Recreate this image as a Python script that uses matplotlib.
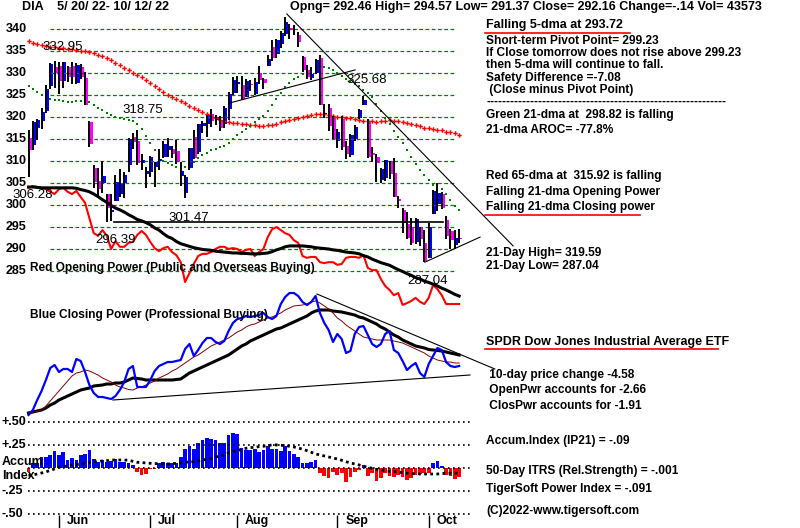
""" DIA daily chart with opening / closing power and accumulation index. """

import matplotlib
matplotlib.use('Agg')
from matplotlib import pyplot as plt
from matplotlib.lines import Line2D
import numpy as np

plt.rcParams['font.family'] = ['Liberation Sans', 'DejaVu Sans']

# Daily bars, 5/20/22 - 10/12/22
opens = [315.2, 313.6, 317.5, 319.0, 321.4, 327.0, 331.4, 331.6, 328.2, 331.3,
         331.6, 327.8, 331.4, 328.8, 318.8, 308.4, 305.5, 304.9, 302.5, 298.3,
         301.0, 302.6, 305.0, 309.0, 315.5, 314.5, 309.6, 307.0, 307.5, 308.6,
         310.0, 311.0, 312.6, 312.8, 312.2, 306.6, 302.8, 308.4, 315.4, 312.0,
         317.9, 318.3, 320.6, 319.4, 319.4, 318.5, 321.8, 325.5, 327.5, 327.3,
         324.6, 327.6, 325.2, 330.0, 328.6, 331.6, 335.8, 334.3, 336.6, 338.8,
         340.3, 339.8, 338.6, 333.7, 330.6, 328.8, 330.1, 333.3, 320.7, 322.0,
         319.8, 314.6, 319.5, 313.5, 311.4, 315.0, 319.8, 322.8, 318.9, 311.9,
         311.0, 305.7, 306.2, 309.9, 307.3, 301.3, 298.8, 295.6, 295.0, 291.7,
         294.9, 291.4, 287.9, 298.0, 300.2, 302.5, 296.5, 294.0, 291.0, 292.46]
highs = [317.0, 319.0, 319.6, 322.1, 327.2, 332.2, 332.8, 332.4, 332.6, 331.5,
         332.6, 332.3, 332.0, 330.2, 319.0, 309.2, 308.3, 310.0, 302.6, 302.6,
         306.9, 308.1, 307.4, 315.2, 316.3, 317.1, 311.6, 308.6, 311.1, 309.7,
         312.7, 314.6, 315.2, 313.5, 314.8, 309.8, 306.8, 313.0, 317.1, 318.4,
         319.0, 320.5, 321.8, 320.5, 320.2, 322.4, 325.6, 329.0, 329.4, 329.3,
         328.7, 328.3, 328.9, 331.6, 328.9, 334.0, 337.4, 337.8, 339.5, 342.8,
         341.2, 341.0, 339.4, 333.9, 331.8, 331.4, 333.1, 334.0, 323.0, 323.0,
         320.2, 317.2, 320.2, 314.6, 316.1, 318.2, 321.8, 324.8, 319.59, 313.2,
         311.5, 308.4, 310.3, 310.0, 310.6, 302.1, 299.4, 298.4, 297.0, 297.0,
         295.0, 294.4, 295.8, 303.4, 305.0, 302.9, 297.5, 294.6, 294.3, 294.57]
lows = [306.3, 312.4, 314.7, 317.3, 320.8, 326.4, 326.6, 325.3, 326.6, 327.9,
        327.6, 327.4, 328.7, 322.7, 313.1, 303.9, 302.1, 302.7, 296.1, 296.4,
        301.0, 301.9, 301.6, 307.6, 312.8, 309.2, 308.0, 303.8, 306.3, 304.2,
        308.0, 310.6, 311.0, 310.6, 309.4, 304.4, 301.6, 308.0, 310.4, 311.7,
        316.4, 315.4, 317.7, 318.1, 316.9, 317.5, 319.4, 325.0, 325.4, 323.9,
        324.5, 325.8, 324.9, 327.5, 326.4, 331.5, 332.7, 333.4, 335.6, 338.5,
        337.8, 338.6, 336.0, 330.3, 328.6, 328.4, 329.7, 322.7, 319.7, 316.8,
        315.0, 313.0, 312.6, 310.5, 311.0, 314.5, 319.6, 322.7, 310.7, 309.8,
        305.3, 305.0, 305.4, 305.9, 301.8, 299.4, 293.6, 292.3, 290.9, 291.1,
        290.6, 287.04, 287.9, 298.0, 298.6, 299.0, 292.3, 290.0, 289.9, 291.37]
closes = [312.6, 318.8, 319.3, 321.2, 326.4, 332.1, 329.9, 328.1, 332.5, 329.0,
          329.2, 331.8, 329.1, 322.7, 313.9, 305.2, 303.6, 306.7, 299.3, 298.9,
          305.3, 304.8, 306.8, 315.0, 314.4, 309.5, 310.3, 307.8, 311.0, 309.7,
          310.4, 313.8, 313.4, 311.7, 309.8, 307.7, 306.3, 312.9, 310.7, 318.3,
          318.7, 320.4, 319.0, 319.9, 317.6, 322.0, 325.3, 328.5, 328.0, 324.0,
          328.1, 327.3, 328.0, 328.3, 327.7, 333.1, 333.4, 337.6, 339.1, 341.5,
          339.8, 340.0, 337.1, 330.6, 329.1, 329.7, 332.9, 322.8, 321.0, 317.9,
          315.1, 316.6, 313.2, 311.5, 315.8, 317.7, 321.5, 323.8, 311.0, 311.3,
          309.6, 308.2, 310.2, 307.1, 301.8, 300.8, 295.9, 292.6, 291.3, 296.8,
          292.2, 287.2, 294.9, 303.2, 302.7, 299.3, 293.0, 292.0, 292.4, 292.16]

# Moving averages (red 65-dma, green 21-dma)
ma65 = [337.2, 336.9, 336.5, 336.3, 336.1, 336.0, 335.8, 335.7, 335.6, 335.5,
        335.4, 335.2, 335.1, 335.0, 334.8, 334.5, 334.2, 333.8, 333.3, 332.9,
        332.3, 331.8, 331.2, 330.6, 330.1, 329.6, 329.1, 328.5, 327.8, 327.1,
        326.3, 325.6, 325.0, 324.6, 324.0, 323.6, 323.1, 322.5, 322.0, 321.6,
        321.2, 320.6, 320.1, 319.7, 319.3, 319.0, 318.8, 318.7, 318.6, 318.4,
        318.3, 318.2, 318.1, 318.0, 318.0, 318.1, 318.2, 318.5, 318.8, 319.1,
        319.3, 319.6, 319.8, 320.0, 320.2, 320.4, 320.6, 320.7, 320.6, 320.4,
        320.2, 320.0, 319.9, 319.8, 319.7, 319.5, 319.3, 319.2, 319.1, 319.0,
        318.9, 319.0, 319.2, 319.3, 319.1, 319.0, 318.9, 318.6, 318.3, 318.2,
        317.9, 317.6, 317.4, 317.2, 317.1, 317.0, 316.7, 316.5, 316.3, 315.92]
ma21 = [327.0, 326.4, 325.7, 325.0, 324.4, 324.0, 323.9, 323.9, 323.7, 323.5,
        323.5, 323.6, 323.7, 323.7, 323.3, 322.8, 322.1, 321.6, 321.0, 320.4,
        320.1, 319.8, 319.6, 319.4, 319.0, 318.5, 317.3, 315.6, 314.0, 312.6,
        311.3, 310.1, 309.5, 309.0, 308.7, 308.5, 308.6, 309.0, 309.8, 310.6,
        311.3, 311.9, 312.4, 312.8, 313.1, 313.5, 314.1, 315.0, 315.9, 316.6,
        317.2, 318.0, 318.8, 319.5, 320.2, 321.4, 322.8, 324.0, 325.4, 326.9,
        327.8, 328.6, 329.2, 329.7, 330.2, 331.0, 331.4, 331.5, 331.4, 331.1,
        330.6, 330.1, 329.4, 328.7, 328.1, 327.6, 327.0, 326.2, 325.4, 324.5,
        323.0, 321.4, 319.8, 318.3, 316.9, 315.5, 314.0, 312.5, 310.9, 309.4,
        308.0, 306.9, 305.6, 304.6, 303.9, 303.6, 302.5, 301.1, 299.8, 298.82]

# Opening power (red) and its average (black), drawn on the price scale
open_pwr = [303.9, 304.3, 304.1, 303.9, 303.6, 303.0, 302.5, 303.6, 303.9, 303.0,
            302.5, 303.2, 301.8, 300.5, 297.0, 293.6, 293.0, 294.3, 293.0, 290.0,
            291.8, 290.5, 290.5, 291.4, 291.6, 293.2, 294.1, 293.2, 291.6, 290.2,
            289.5, 290.2, 290.5, 289.3, 288.6, 287.0, 282.5, 284.5, 286.6, 288.4,
            288.9, 288.9, 289.3, 290.0, 290.5, 290.5, 290.0, 290.2, 290.0, 289.3,
            289.8, 290.0, 288.4, 289.3, 290.0, 292.7, 294.5, 295.0, 294.3, 293.6,
            293.2, 292.0, 291.4, 288.4, 288.0, 288.2, 288.2, 287.0, 286.8, 287.0,
            287.0, 286.4, 286.6, 288.0, 288.2, 288.2, 288.0, 288.6, 285.7, 285.2,
            285.2, 283.2, 281.6, 280.7, 279.5, 280.0, 277.3, 277.7, 278.2, 278.9,
            278.0, 277.5, 278.9, 281.8, 280.9, 279.5, 277.5, 277.5, 277.5, 277.5]
open_pwr_ma = [304.1, 304.1, 304.0, 303.9, 303.9, 303.9, 303.9, 303.9, 303.9, 303.9,
               303.9, 303.8, 303.5, 303.3, 303.0, 302.5, 301.9, 301.2, 300.6, 299.9,
               299.3, 298.9, 298.4, 297.8, 297.3, 296.7, 296.4, 296.0, 295.5, 294.8,
               294.3, 293.5, 292.8, 292.4, 291.7, 291.2, 290.9, 290.6, 290.3, 290.1,
               289.9, 289.8, 289.7, 289.5, 289.4, 289.3, 289.2, 289.1, 289.1, 289.0,
               289.0, 288.9, 288.9, 288.9, 289.0, 289.1, 289.4, 289.8, 290.1, 290.5,
               290.7, 290.7, 290.7, 290.7, 290.6, 290.5, 290.3, 290.2, 290.1, 290.0,
               289.8, 289.7, 289.5, 289.3, 289.2, 289.1, 288.9, 288.5, 288.2, 287.7,
               287.3, 286.9, 286.6, 286.3, 285.8, 285.3, 284.9, 284.4, 284.0, 283.5,
               283.2, 282.7, 282.4, 282.0, 281.6, 281.1, 280.7, 280.2, 279.7, 279.3]

# Closing power (blue), short average (dark red), long average (black)
close_pwr = [15, 20, 30, 39, 50, 62, 65, 58, 61, 61,
             58, 71, 69, 58, 45, 37, 33, 33, 32, 31,
             34, 40, 48, 61, 64, 43, 43, 43, 50, 59,
             64, 66, 68, 68, 69, 70, 81, 86, 74, 80,
             87, 92, 92, 88, 86, 89, 99, 107, 111, 112,
             114, 113, 114, 115, 117, 113, 111, 114, 126, 133,
             137, 137, 134, 128, 125, 128, 134, 117, 107, 100,
             88, 96, 91, 77, 79, 96, 103, 104, 95, 86,
             83, 86, 96, 99, 80, 77, 69, 60, 64, 67,
             57, 53, 66, 74, 82, 80, 68, 64, 63, 64]
close_pwr_ma = [17, 18, 18.5, 20, 24, 29, 34, 39, 44, 49,
                54, 57, 58, 60, 59, 57, 55, 52, 50, 48,
                45, 43, 42, 40.5, 40, 42, 43, 45, 47, 49,
                52, 54, 56, 59, 61, 64, 67, 70, 73, 75,
                78, 81, 84, 86, 88, 90, 92, 95, 98, 100,
                103, 105, 106, 108, 110, 112, 113, 115, 117, 120,
                122, 124, 124.5, 125, 126, 128, 129, 127, 124, 121,
                117, 112, 109, 105, 102, 99, 96, 93, 92, 91,
                90, 90, 90, 90, 89, 88, 87, 85, 83, 81,
                79, 77, 74, 72, 70, 69, 68, 68, 67, 67]
close_pwr_long = [17, 18, 19, 20, 22, 25, 27, 30, 32, 34,
                  36, 38, 40, 41, 42, 44, 44.5, 45, 46, 46,
                  47, 47, 48, 50, 52, 51.5, 51, 50, 50, 50,
                  50, 50, 50, 50, 50.5, 51, 54, 57, 59, 61,
                  63, 65, 67, 69, 71, 73, 75, 78, 81, 84,
                  86, 89, 91, 93, 95, 97, 99, 101, 102, 104,
                  106, 108, 110, 112, 114, 117, 119, 120, 120, 120,
                  119, 118.5, 118, 117, 116, 115, 113, 112, 110, 108,
                  106, 103, 101, 98, 95, 93, 90, 88, 86, 84,
                  83, 82, 80.5, 80, 79.5, 79, 78, 77, 76, 75]

# Accumulation index (IP21) and its average
accum = [-0.036, 0.054, 0.054, 0.12, 0.127, 0.145, 0.19, 0.145, 0.18, 0.09,
         0.11, 0.09, 0.145, 0.16, 0.2, 0.1, 0.07, 0.09, 0.07, 0.08,
         0.1, 0.07, 0.07, 0.054, 0.036, -0.036, -0.07, -0.06, -0.01, -0.01,
         0.054, 0.07, 0.054, 0.054, 0.054, 0.127, 0.21, 0.24, 0.21, 0.28,
         0.31, 0.33, 0.32, 0.31, 0.27, 0.27, 0.36, 0.38, 0.37, 0.22,
         0.2, 0.2, 0.21, 0.18, 0.2, 0.24, 0.21, 0.21, 0.19, 0.24,
         0.19, 0.16, 0.127, 0.06, 0.054, 0.07, 0.09, -0.054, -0.083, -0.11,
         -0.036, -0.07, -0.054, -0.145, -0.09, -0.036, -0.018, 0.036, -0.083, -0.054,
         -0.134, -0.11, -0.054, -0.083, -0.09, -0.07, -0.09, -0.127, -0.11, -0.07,
         -0.06, -0.054, -0.054, 0.054, 0.08, 0.025, -0.07, -0.083, -0.12, -0.09]
accum_ma = [-0.08, -0.072, -0.062, -0.051, -0.04, -0.022, -0.007, 0.011, 0.018, 0.025,
            0.033, 0.04, 0.047, 0.054, 0.062, 0.069, 0.072, 0.08, 0.083, 0.09,
            0.09, 0.09, 0.09, 0.087, 0.076, 0.065, 0.062, 0.058, 0.054, 0.051,
            0.051, 0.047, 0.047, 0.051, 0.054, 0.058, 0.065, 0.069, 0.072, 0.08,
            0.09, 0.098, 0.109, 0.123, 0.134, 0.149, 0.167, 0.181, 0.192, 0.207,
            0.217, 0.225, 0.228, 0.236, 0.239, 0.246, 0.254, 0.254, 0.25, 0.246,
            0.239, 0.232, 0.221, 0.207, 0.192, 0.174, 0.156, 0.145, 0.134, 0.123,
            0.112, 0.101, 0.087, 0.072, 0.058, 0.047, 0.036, 0.022, 0.011, 0.0,
            -0.011, -0.018, -0.025, -0.033, -0.036, -0.04, -0.047, -0.054, -0.058, -0.058,
            -0.062, -0.062, -0.062, -0.062, -0.062, -0.058, -0.054, -0.054, -0.054, -0.054]

# Trend lines (day index, value)
tl_price_down = ([59.4, 111.4], [343.4, 290.7])
tl_price_up = ([46.3, 75.1], [323.2, 330.7])
tl_price_sup = ([91.1, 103.8], [287.0, 292.7])
tl_level = ([19.7, 95.3], [296.2, 296.2])
tl_cp_down = ([66.3, 107.2], [136, 61])
tl_cp_sup = ([19.4, 101.5], [30, 55])

months = ['Jun', 'Jul', 'Aug', 'Sep', 'Oct']
month_start = [7, 28, 48, 71, 92]   # first trading day of each month
price_levels = [285, 290, 295, 300, 305, 310, 315, 320, 325, 330, 335, 340]

W, H = 800, 528
BLUE, MAG, RED, GRN, DRED = '#0000ff', '#ff00ff', '#ff0000', '#008000', '#800000'

fig = plt.figure(figsize=(W / 100, H / 100), dpi=100)

def ftext(x, y, s, size=8.2, weight='bold', **kw):
    fig.text(x / W, 1 - y / H, s, ha='left', va='center', fontsize=size,
             fontweight=weight, **kw)

def uline(x0, x1, y):
    fig.add_artist(Line2D([x0 / W, x1 / W], [1 - y / H, 1 - y / H],
                          color=RED, lw=1.2))

ax_p = fig.add_axes([0, 0, 1, 1])
ax_cp = fig.add_axes([0, 0, 1, 1])
ax_ai = fig.add_axes([0, 0, 1, 1])
for ax in (ax_p, ax_cp, ax_ai):
    ax.set_xlim(-6.552, 177.36)
    ax.axis('off')
    ax.patch.set_alpha(0)
ax_p.set_ylim(226.591, 346.591)
ax_cp.set_ylim(-98, 430)
ax_ai.set_ylim(-0.649, 5.090)

idx = np.arange(len(closes))
o, h, l, c = map(np.array, (opens, highs, lows, closes))

# Price panel
ax_p.hlines(price_levels, 5, 98, colors=GRN, linestyles=(0, (3, 2)), lw=0.9)
for lv in price_levels:
    ax_p.text(-5.3, lv, str(lv), ha='left', va='center', fontsize=9,
              fontweight='bold')

ax_p.plot(idx, ma65, ls='none', marker='P', ms=3.2, color=RED, mew=0)
ax_p.plot(idx, ma21, ls='none', marker='s', ms=1.7, color=GRN, mew=0)

ax_p.vlines(idx, l, h, colors='k', lw=1.4)
body = np.where(np.abs(c - o) < 0.3, 0.3 * np.sign(c - o + 1e-9), c - o)
cols = [BLUE if cc >= oo else MAG for oo, cc in zip(o, c)]
ax_p.bar(idx + 0.35, body, bottom=o, width=0.75, color=cols, lw=0)

for xs, ys in (tl_price_down, tl_price_up, tl_price_sup):
    ax_p.plot(xs, ys, color='k', lw=0.8)
ax_p.plot(*tl_level, color='k', lw=1.2)

ax_p.plot(idx, open_pwr, color=RED, lw=1.5)
ax_p.plot(idx, open_pwr_ma, color='k', lw=2.2)

for s, xi, yv in [('332.95', 3.3, 335.9), ('318.75', 21.5, 321.6),
                  ('325.68', 73.2, 328.4), ('306.28', -3.6, 302.3),
                  ('296.39', 15.3, 292.0), ('301.47', 32.1, 297.0),
                  ('287.04', 87.2, 282.7)]:
    ax_p.text(xi, yv, s, ha='left', va='center', fontsize=9.5)

ftext(30, 268, 'Red Opening Power (Public and Overseas Buying)', size=8.6)

# Closing power panel
ax_cp.plot(idx, close_pwr_long, color='k', lw=2.2)
ax_cp.plot(idx, close_pwr_ma, color=DRED, lw=0.7)
ax_cp.plot(idx, close_pwr, color=BLUE, lw=1.6)
for xs, ys in (tl_cp_down, tl_cp_sup):
    ax_cp.plot(xs, ys, color='k', lw=0.8)
ftext(30, 315, 'Blue Closing Power (Professional Buying)', size=8.6)

# Accumulation index panel
ax_ai.hlines([0.5, 0.25, 0, -0.25, -0.5], -0.1, 101.5, colors='k',
             linestyles=(0, (1, 2)), lw=1.2)
acc = np.array(accum)
ax_ai.bar(idx, acc, width=0.85, color=[BLUE if a > 0 else RED for a in acc],
          lw=0)
ax_ai.plot(idx, accum_ma, color='k', ls=(0, (1, 1.2)), lw=2)
ax_ai.vlines(month_start, -0.51, -0.66, colors='k', lw=1)
for m, s in zip(month_start, months):
    ax_ai.text(m + 1.8, -0.575, s, ha='left', va='center', fontsize=9,
               fontweight='bold')
for s, yv in [('+.50', 0.5), ('+.25', 0.25), ('-.25', -0.25), ('-.50', -0.5)]:
    ax_ai.text(-6.1, yv, s, ha='left', va='center', fontsize=9,
               fontweight='bold')
ax_ai.text(-6.1, 0.07, 'Accum', ha='left', va='center', fontsize=9,
           fontweight='bold')
ax_ai.text(-6.1, -0.08, 'Index', ha='left', va='center', fontsize=9,
           fontweight='bold')

# Header
ftext(22, 7, 'DIA    5/ 20/ 22- 10/ 12/ 22', size=9)
ftext(290, 7, 'Opng= 292.46 High= 294.57 Low= 291.37 Close= 292.16 '
      'Change=-.14 Vol= 43573', size=9)

# Right hand notes
notes = [(25, 'Falling 5-dma at 293.72'),
         (41, 'Short-term Pivot Point= 299.23'),
         (53, 'If Close tomorrow does not rise above 299.23'),
         (65, 'then 5-dma will continue to fall.'),
         (78, 'Safety Difference =-7.08'),
         (90, ' (Close minus Pivot Point)'),
         (102, '-' * 60),
         (115, 'Green 21-dma at  298.82 is falling'),
         (130, '21-dma AROC= -77.8%'),
         (176, 'Red 65-dma at  315.92 is falling'),
         (192, 'Falling 21-dma Opening Power'),
         (207, 'Falling 21-dma Closing power'),
         (253, '21-Day High= 319.59'),
         (266, '21-Day Low= 287.04'),
         (342, 'SPDR Dow Jones Industrial Average ETF'),
         (375, ' 10-day price change -4.58'),
         (390, ' OpenPwr accounts for -2.66'),
         (406, ' ClosPwr accounts for -1.91'),
         (441, 'Accum.Index (IP21) = -.09'),
         (471, '50-Day ITRS (Rel.Strength) = -.001'),
         (489, 'TigerSoft Power Index = -.091'),
         (511, '(C)2022-www.tigersoft.com')]
for yv, s in notes:
    ftext(486, yv, s, size=9 if yv in (25, 342) else 8.6)
uline(485, 630, 33)
uline(485, 640, 215)
uline(485, 718, 349)

fig.savefig('out.png', dpi=100)
